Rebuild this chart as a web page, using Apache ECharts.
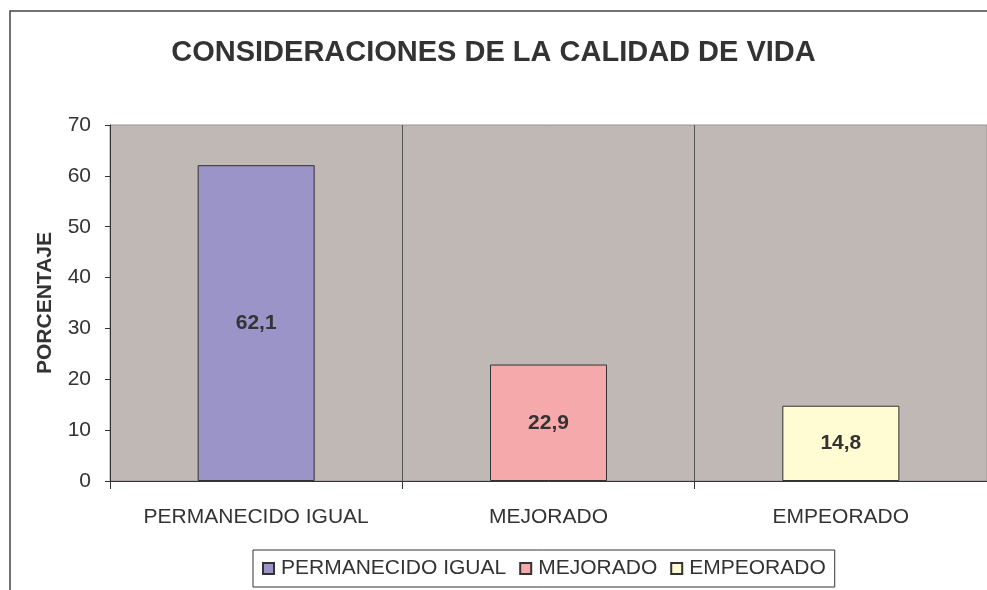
<!DOCTYPE html>
<html>
<head>
<meta charset="utf-8">
<script src="https://cdn.jsdelivr.net/npm/echarts@6/dist/echarts.min.js"></script>
<style>
  html, body { margin: 0; padding: 0; background: #fff; }
  #chart { width: 987px; height: 590px; }
</style>
</head>
<body>
<div id="chart"></div>
<script>
const categories = ['PERMANECIDO IGUAL', 'MEJORADO', 'EMPEORADO'];
const values = [62.1, 22.9, 14.8];
const colors = ['#9A94C8', '#F5A9AB', '#FFFBD2'];
const yTicks = [0, 10, 20, 30, 40, 50, 60, 70];

const font = '"Liberation Sans", Arial, sans-serif';

// one series per category so every bar gets its own legend entry
const series = categories.map((name, i) => ({
    name: name,
    type: 'bar',
    barWidth: 117,
    barGap: '-100%',
    data: values.map((v, j) => (j === i ? v : '-')),
    itemStyle: {
        color: colors[i],
        borderColor: '#333',
        borderWidth: 1
    },
    label: {
        show: true,
        position: 'inside',
        fontFamily: font,
        fontSize: 21,
        fontWeight: 'bold',
        color: '#333',
        formatter: p => String(p.value).replace('.', ',')
    }
}));

const chart = echarts.init(document.getElementById('chart'));
chart.setOption({
    animation: false,
    textStyle: { fontFamily: font },
    title: {
        text: 'CONSIDERACIONES DE LA CALIDAD DE VIDA',
        left: 'center',
        top: 33,
        textStyle: {
            fontFamily: font,
            fontSize: 29,
            fontWeight: 'bold',
            color: '#333'
        }
    },
    graphic: [{
        type: 'rect',
        shape: { x: 10, y: 11, width: 1200, height: 800 },
        style: { fill: 'none', stroke: '#444', lineWidth: 1.5 },
        silent: true,
        z: -1
    }],
    grid: {
        left: 110,
        right: 0,
        top: 125,
        bottom: 109,
        show: true,
        backgroundColor: '#C0B8B5',
        borderColor: '#9a9290',
        borderWidth: 1
    },
    legend: {
        left: 253,
        top: 550,
        padding: [8, 9, 8, 9],
        itemWidth: 11,
        itemHeight: 11,
        itemGap: 13,
        icon: 'rect',
        borderColor: '#333',
        borderWidth: 1,
        textStyle: {
            fontFamily: font,
            fontSize: 21,
            color: '#333',
            padding: [0, 0, 0, 2]
        },
        data: categories
    },
    xAxis: {
        type: 'category',
        data: categories,
        axisLine: { lineStyle: { color: '#333', width: 1 } },
        axisTick: { show: true, interval: 0, length: 8, lineStyle: { color: '#333' } },
        axisLabel: {
            interval: 0,
            margin: 26,
            fontFamily: font,
            fontSize: 21,
            color: '#333'
        },
        splitLine: { show: true, interval: 0, lineStyle: { color: '#555', width: 1 } }
    },
    yAxis: {
        type: 'value',
        min: yTicks[0],
        max: yTicks[yTicks.length - 1],
        interval: 10,
        name: 'PORCENTAJE',
        nameLocation: 'middle',
        nameGap: 54,
        nameTextStyle: {
            fontFamily: font,
            fontSize: 21,
            fontWeight: 'bold',
            color: '#333'
        },
        axisLine: { show: true, lineStyle: { color: '#333', width: 1 } },
        axisTick: { show: true, length: 5, lineStyle: { color: '#333' } },
        axisLabel: {
            margin: 19,
            fontFamily: font,
            fontSize: 21,
            color: '#333'
        },
        splitLine: { show: false }
    },
    series: series
});
</script>
</body>
</html>
